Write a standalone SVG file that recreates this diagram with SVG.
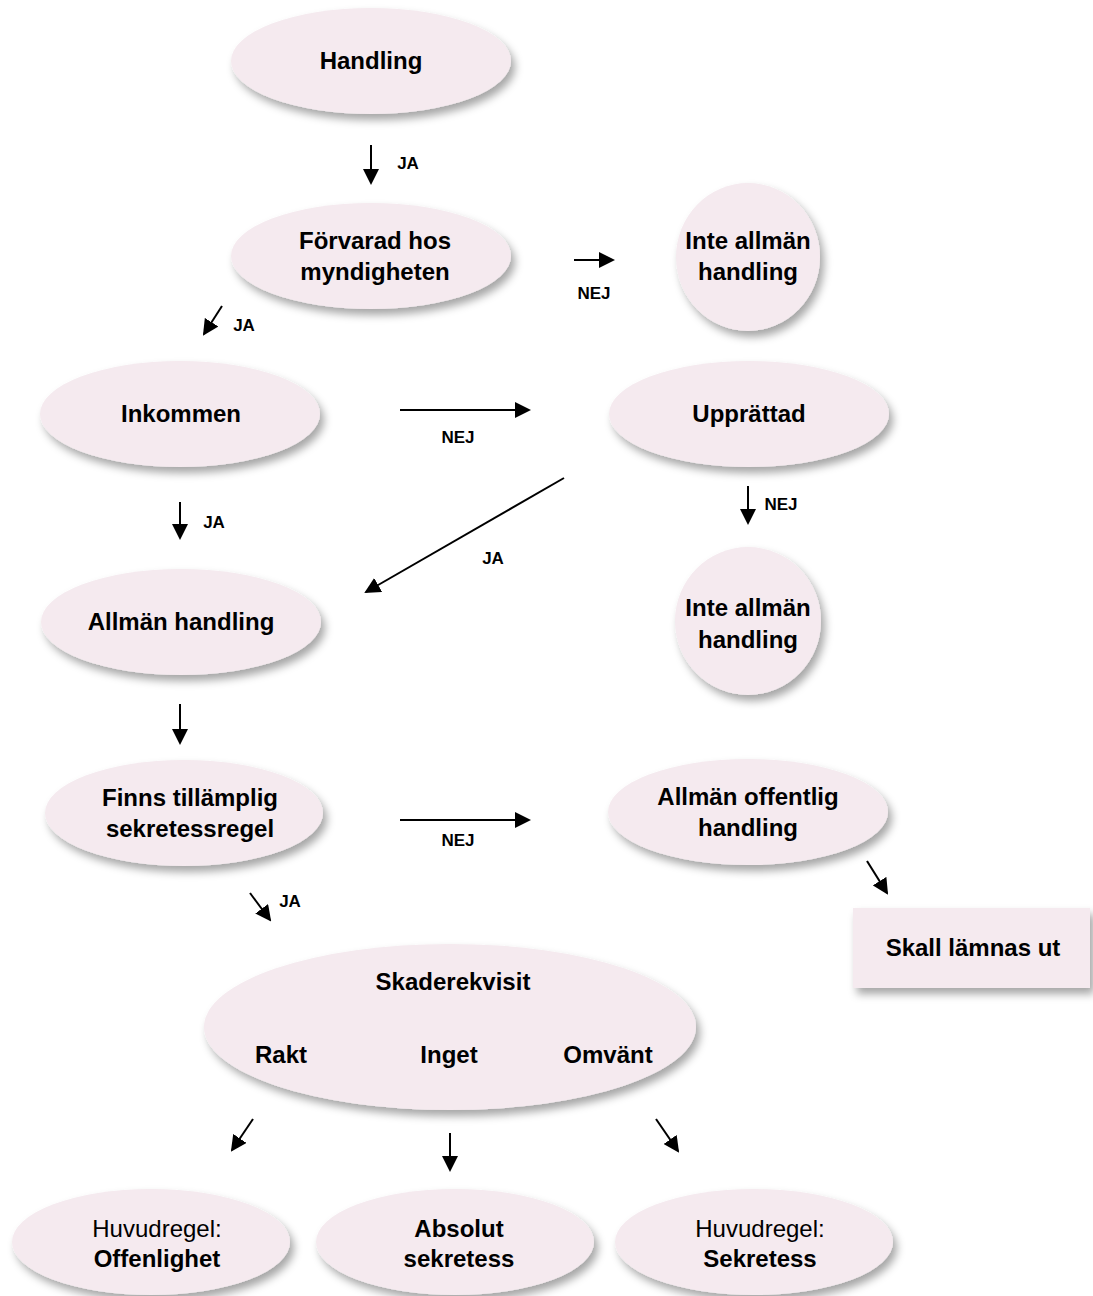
<svg xmlns="http://www.w3.org/2000/svg" width="1093" height="1296" viewBox="0 0 1093 1296">
<defs>
<filter id="sh" x="-20%" y="-20%" width="150%" height="160%">
<feDropShadow dx="4" dy="6" stdDeviation="4" flood-color="#000" flood-opacity="0.35"/>
</filter>
<marker id="ah" markerUnits="userSpaceOnUse" markerWidth="16" markerHeight="16" refX="14" refY="8" orient="auto">
<path d="M0,0 L16,8 L0,16 z" fill="#000"/>
</marker>
<style>
.node{fill:#f5eaef;filter:url(#sh);}
.t{font-family:"Liberation Sans",Arial,sans-serif;font-weight:bold;font-size:24px;fill:#000;text-anchor:middle;}
.r{font-family:"Liberation Sans",Arial,sans-serif;font-weight:normal;font-size:24px;fill:#000;text-anchor:middle;}
.l{font-family:"Liberation Sans",Arial,sans-serif;font-weight:bold;font-size:17px;fill:#000;text-anchor:middle;}
.c{stroke:#000;stroke-width:2;fill:none;marker-end:url(#ah);}
</style>
</defs>
<rect width="1093" height="1296" fill="#fff"/>

<g id="n-handling"><ellipse class="node" cx="371" cy="61" rx="140" ry="53"/><text class="t" x="371" y="69">Handling</text></g>
<g id="n-forvarad"><ellipse class="node" cx="371" cy="256" rx="140" ry="53"/><text class="t" x="375" y="249">Förvarad hos</text><text class="t" x="375" y="280">myndigheten</text></g>
<g id="n-inte1"><ellipse class="node" cx="748" cy="257" rx="72" ry="74"/><text class="t" x="748" y="249">Inte allmän</text><text class="t" x="748" y="280">handling</text></g>
<g id="n-inkommen"><ellipse class="node" cx="180" cy="414" rx="140" ry="53"/><text class="t" x="181" y="422">Inkommen</text></g>
<g id="n-upprattad"><ellipse class="node" cx="749" cy="414" rx="140" ry="53"/><text class="t" x="749" y="422">Upprättad</text></g>
<g id="n-inte2"><ellipse class="node" cx="748" cy="621" rx="73" ry="74"/><text class="t" x="748" y="616">Inte allmän</text><text class="t" x="748" y="648">handling</text></g>
<g id="n-allman"><ellipse class="node" cx="181" cy="622" rx="140" ry="53"/><text class="t" x="181" y="630">Allmän handling</text></g>
<g id="n-finns"><ellipse class="node" cx="184" cy="813" rx="139" ry="53"/><text class="t" x="190" y="806">Finns tillämplig</text><text class="t" x="190" y="837">sekretessregel</text></g>
<g id="n-offentlig"><ellipse class="node" cx="748" cy="812" rx="140" ry="53"/><text class="t" x="748" y="805">Allmän offentlig</text><text class="t" x="748" y="836">handling</text></g>
<g id="n-skall"><rect class="node" x="853" y="908" width="237" height="80"/><text class="t" x="973" y="956">Skall lämnas ut</text></g>
<g id="n-skade"><ellipse class="node" cx="450" cy="1027" rx="246" ry="83"/><text class="t" x="453" y="990">Skaderekvisit</text><text class="t" x="281" y="1063">Rakt</text><text class="t" x="449" y="1063">Inget</text><text class="t" x="608" y="1063">Omvänt</text></g>
<g id="n-offenlighet"><ellipse class="node" cx="151" cy="1242" rx="139" ry="53"/><text class="r" x="157" y="1237">Huvudregel:</text><text class="t" x="157" y="1267">Offenlighet</text></g>
<g id="n-absolut"><ellipse class="node" cx="455" cy="1242" rx="139" ry="53"/><text class="t" x="459" y="1237">Absolut</text><text class="t" x="459" y="1267">sekretess</text></g>
<g id="n-sekretess"><ellipse class="node" cx="754" cy="1242" rx="139" ry="53"/><text class="r" x="760" y="1237">Huvudregel:</text><text class="t" x="760" y="1267">Sekretess</text></g>

<g id="connectors">
<line class="c" x1="371" y1="145" x2="371" y2="183"/>
<line class="c" x1="222" y1="306" x2="204" y2="334"/>
<line class="c" x1="574" y1="260" x2="613" y2="260"/>
<line class="c" x1="400" y1="410" x2="529" y2="410"/>
<line class="c" x1="180" y1="502" x2="180" y2="538"/>
<line class="c" x1="564" y1="478" x2="366" y2="592"/>
<line class="c" x1="748" y1="486" x2="748" y2="523"/>
<line class="c" x1="180" y1="704" x2="180" y2="743"/>
<line class="c" x1="400" y1="820" x2="529" y2="820"/>
<line class="c" x1="250" y1="893" x2="270" y2="920"/>
<line class="c" x1="867" y1="861" x2="887" y2="893"/>
<line class="c" x1="253" y1="1119" x2="232" y2="1150"/>
<line class="c" x1="450" y1="1133" x2="450" y2="1170"/>
<line class="c" x1="656" y1="1119" x2="678" y2="1151"/>
<text class="l" x="408" y="169">JA</text>
<text class="l" x="244" y="331">JA</text>
<text class="l" x="594" y="299">NEJ</text>
<text class="l" x="458" y="443">NEJ</text>
<text class="l" x="214" y="528">JA</text>
<text class="l" x="493" y="564">JA</text>
<text class="l" x="781" y="510">NEJ</text>
<text class="l" x="458" y="846">NEJ</text>
<text class="l" x="290" y="907">JA</text>
</g>
</svg>
